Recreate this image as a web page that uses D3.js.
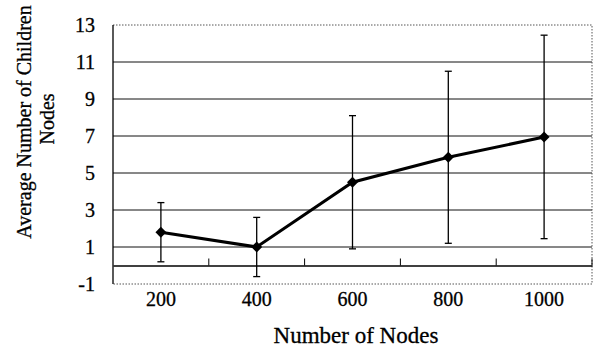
<!DOCTYPE html>
<html>
<head>
<meta charset="utf-8">
<script src="https://cdn.jsdelivr.net/npm/d3@7"></script>
<style>
  body { margin: 0; background: #fff; }
  text { font-family: "Liberation Serif", "Times New Roman", serif; fill: #000; stroke: #000; stroke-width: 0.3px; }
</style>
</head>
<body>
<svg width="593" height="349"></svg>
<script>
const categories = ['200', '400', '600', '800', '1000'];
const means = [1.8, 1.0, 4.5, 5.85, 6.95];
const errors = [1.6, 1.6, 3.6, 4.65, 5.5];
const yTicks = [-1, 1, 3, 5, 7, 9, 11, 13];

const svg = d3.select('svg');
const plotLeft = 113, plotRight = 592, plotTop = 25, plotBottom = 284;

const x = d3.scaleBand().domain(categories).range([plotLeft, plotRight]).padding(0);
const y = d3.scaleLinear().domain([-1, 13]).range([plotBottom, plotTop]);

const data = categories.map((c, i) => ({ c, m: means[i], e: errors[i] }));

// gridlines
svg.append('g')
  .selectAll('line')
  .data(yTicks.filter(d => d > -1 && d < 13))
  .enter().append('line')
  .attr('x1', plotLeft).attr('x2', plotRight)
  .attr('y1', d => y(d)).attr('y2', d => y(d))
  .attr('stroke', '#111').attr('stroke-width', 1);

// plot border (dotted top/right/bottom)
svg.append('path')
  .attr('d', `M${plotLeft},${y(13)}H${plotRight}V${y(-1)}H${plotLeft}`)
  .attr('fill', 'none')
  .attr('stroke', '#555')
  .attr('stroke-width', 1)
  .attr('stroke-dasharray', '1.5,1.5');

// value axis
svg.append('line')
  .attr('x1', plotLeft).attr('x2', plotLeft)
  .attr('y1', y(13)).attr('y2', y(-1))
  .attr('stroke', '#000').attr('stroke-width', 1.3);

// category axis at zero
const xAxis = d3.axisBottom(x).tickSize(0).tickFormat('');
svg.append('g')
  .attr('transform', `translate(0,${y(0)})`)
  .call(xAxis)
  .call(g => g.select('.domain').attr('stroke', '#000').attr('stroke-width', 1.3));

// tick marks between categories
svg.append('g')
  .selectAll('line')
  .data(categories)
  .enter().append('line')
  .attr('x1', d => x(d) + x.bandwidth())
  .attr('x2', d => x(d) + x.bandwidth())
  .attr('y1', y(0)).attr('y2', y(0) - 7)
  .attr('stroke', '#000').attr('stroke-width', 1);

// y tick labels
svg.append('g')
  .selectAll('text')
  .data(yTicks)
  .enter().append('text')
  .attr('x', 95)
  .attr('y', d => y(d))
  .attr('dy', '0.36em')
  .attr('text-anchor', 'end')
  .style('font-size', '20px')
  .text(d => d);

// x tick labels
svg.append('g')
  .selectAll('text')
  .data(categories)
  .enter().append('text')
  .attr('x', d => x(d) + x.bandwidth() / 2)
  .attr('y', 306)
  .attr('text-anchor', 'middle')
  .style('font-size', '20px')
  .text(d => d);

// error bars
const cx = d => x(d.c) + x.bandwidth() / 2;
const eb = svg.append('g').attr('stroke', '#000').attr('stroke-width', 1.3);
eb.selectAll('.v').data(data).enter().append('line')
  .attr('x1', cx).attr('x2', cx)
  .attr('y1', d => y(d.m + d.e)).attr('y2', d => y(d.m - d.e));
eb.selectAll('.t').data(data).enter().append('line')
  .attr('x1', d => cx(d) - 3.5).attr('x2', d => cx(d) + 3.5)
  .attr('y1', d => y(d.m + d.e)).attr('y2', d => y(d.m + d.e));
eb.selectAll('.b').data(data).enter().append('line')
  .attr('x1', d => cx(d) - 3.5).attr('x2', d => cx(d) + 3.5)
  .attr('y1', d => y(d.m - d.e)).attr('y2', d => y(d.m - d.e));

// line
const line = d3.line().x(cx).y(d => y(d.m));
svg.append('path')
  .datum(data)
  .attr('d', line)
  .attr('fill', 'none')
  .attr('stroke', '#000')
  .attr('stroke-width', 3);

// markers
svg.append('g')
  .selectAll('path')
  .data(data)
  .enter().append('path')
  .attr('d', d3.symbol().type(d3.symbolSquare).size(60))
  .attr('transform', d => `translate(${cx(d)},${y(d.m)}) rotate(45)`)
  .attr('fill', '#000');

// axis titles
svg.append('text')
  .attr('x', 356).attr('y', 343)
  .attr('text-anchor', 'middle')
  .style('font-size', '23px')
  .text('Number of Nodes');

svg.append('text')
  .attr('transform', 'translate(31,122) rotate(-90)')
  .attr('text-anchor', 'middle')
  .style('font-size', '20px')
  .text('Average Number of Children');

svg.append('text')
  .attr('transform', 'translate(54,119) rotate(-90)')
  .attr('text-anchor', 'middle')
  .style('font-size', '20px')
  .text('Nodes');
</script>
</body>
</html>
